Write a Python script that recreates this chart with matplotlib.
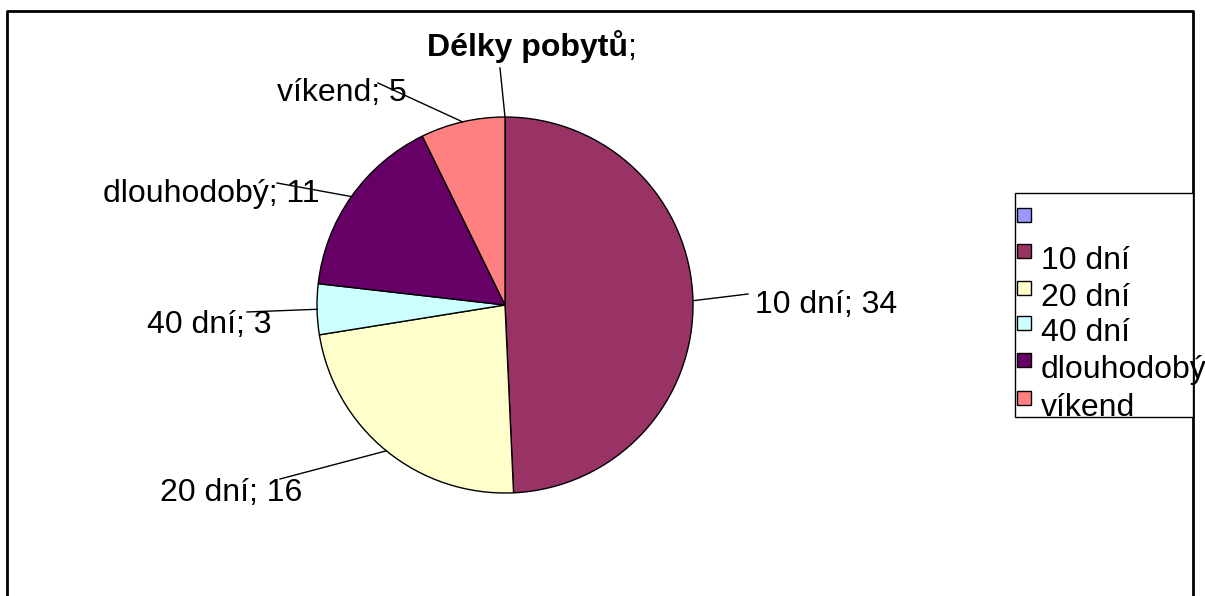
import numpy as np
import matplotlib
matplotlib.use('Agg')
import matplotlib.pyplot as plt
from matplotlib.patches import Rectangle

plt.rcParams['font.family'] = ['Liberation Sans', 'DejaVu Sans']

# data
labels = ['', '10 dní', '20 dní', '40 dní', 'dlouhodobý', 'víkend']
values = [0, 34, 16, 3, 11, 5]
colors = ['#9999FF', '#993366', '#FFFFCC', '#CCFFFF', '#660066', '#FF8080']
title = 'Délky pobytů'

W, H = 1205, 596
fig = plt.figure(figsize=(W / 100, H / 100), dpi=100)
ax = fig.add_axes([0, 0, 1, 1])


def Y(py):
    return H - py


cx, cy, r = 505, Y(305), 188
wedges, _ = ax.pie(values, colors=colors, startangle=90, counterclock=False,
                   center=(cx, cy), radius=r, frame=True,
                   wedgeprops=dict(edgecolor='black', linewidth=1.0))
ax.set_xlim(0, W)
ax.set_ylim(0, H)
ax.set_aspect('equal')
ax.axis('off')

# konec vodici cary a pozice textu (pixely)
line_ends = [(500, 68), (748, 294), (280, 479), (247, 312), (277, 183), (378, 83)]
text_pos = [(632, 56), (755, 313), (160, 501), (147, 333), (103, 202), (277, 101)]
fs = 23

for i, w in enumerate(wedges):
    mid = np.deg2rad((w.theta1 + w.theta2) / 2)
    x0 = cx + r * np.cos(mid)
    y0 = cy + r * np.sin(mid)
    ex, ey = line_ends[i]
    ax.plot([x0, ex], [y0, Y(ey)], color='black', lw=1.0, zorder=3)
    tx, ty = text_pos[i]
    if labels[i]:
        txt = f'{labels[i]}; {values[i]}'
        ax.text(tx, Y(ty), txt, fontsize=fs, ha='left', va='baseline', zorder=4)
    else:
        ax.text(tx, Y(ty), ';', fontsize=fs, ha='center', va='baseline', zorder=4)

ax.text(628, Y(56), title, fontsize=fs, fontweight='bold', ha='right', va='baseline')

# ramecek grafu (bez spodni hrany)
ax.plot([7, 7, 1193, 1193], [0, Y(11), Y(11), 0], color='black', lw=2, clip_on=False)

# legenda
ax.add_patch(Rectangle((1015, Y(417)), 1193 - 1015, 417 - 193, facecolor='white',
                       edgecolor='black', lw=1.0, zorder=2))
leg_y = [215, 251, 288, 323, 360, 398]
for lab, col, ly in zip(labels, colors, leg_y):
    ax.add_patch(Rectangle((1017, Y(ly) - 7), 14, 14, facecolor=col,
                           edgecolor='black', lw=1.0, zorder=3))
    ax.text(1041, Y(ly + 18), lab, fontsize=fs, ha='left', va='baseline', zorder=4)

fig.savefig('out.png', dpi=100)
